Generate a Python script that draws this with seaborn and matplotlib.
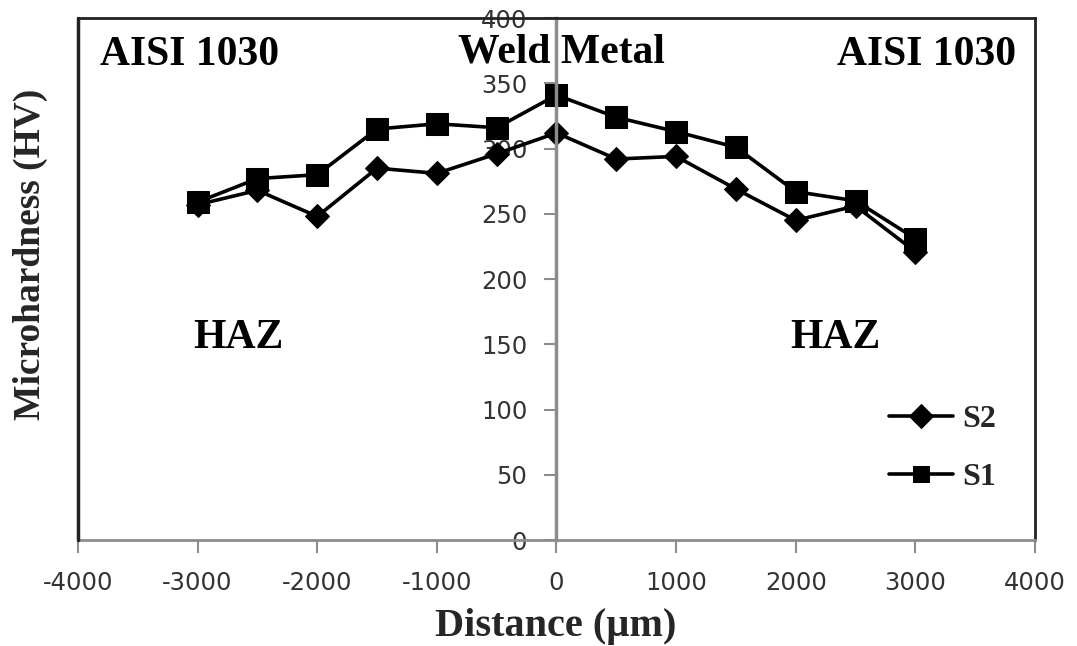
"""Microhardness profile across the weld (S1 vs S2)."""

import matplotlib
matplotlib.use("Agg")
import matplotlib.pyplot as plt
import pandas as pd
import seaborn as sns

# distance from weld centre (um)
distance = [-3000, -2500, -2000, -1500, -1000, -500, 0, 500, 1000, 1500, 2000, 2500, 3000]
s1_hv = [259, 277, 280, 315, 319, 316, 341, 324, 313, 301, 267, 260, 231]
s2_hv = [257, 268, 248, 285, 281, 296, 312, 292, 294, 269, 245, 256, 221]

x_ticks = [-4000, -3000, -2000, -1000, 0, 1000, 2000, 3000, 4000]
y_ticks = [0, 50, 100, 150, 200, 250, 300, 350, 400]

SERIF = ["Liberation Serif", "DejaVu Serif"]


def main() -> None:
    sns.set_theme(style="white")
    plt.rcParams["font.family"] = ["DejaVu Sans"]
    plt.rcParams["axes.unicode_minus"] = False

    df = pd.concat(
        [
            pd.DataFrame({"distance": distance, "hv": s2_hv, "sample": "S2"}),
            pd.DataFrame({"distance": distance, "hv": s1_hv, "sample": "S1"}),
        ]
    )

    fig = plt.figure(figsize=(10.77, 6.46), dpi=100)
    ax = fig.add_axes([0.0724, 0.164, 0.8886, 0.808])

    sns.lineplot(data=df[df["sample"] == "S2"], x="distance", y="hv", ax=ax,
                 color="black", lw=2.6, marker="D", markersize=12,
                 markeredgecolor="black", label="S2")
    sns.lineplot(data=df[df["sample"] == "S1"], x="distance", y="hv", ax=ax,
                 color="black", lw=2.6, marker="s", markersize=16,
                 markeredgecolor="black", label="S1")

    ax.set_xlim(-4000, 4000)
    ax.set_ylim(0, 400)
    ax.set_xticks(x_ticks)
    ax.set_yticks(y_ticks)

    # y axis crosses at x = 0, box drawn around plot area
    ax.spines["left"].set_position(("data", 0))
    ax.spines["left"].set_color("#8c8c8c")
    ax.spines["left"].set_linewidth(2.5)
    ax.spines["bottom"].set_color("#8c8c8c")
    ax.spines["bottom"].set_linewidth(2.0)
    for side in ["top", "right"]:
        ax.spines[side].set_color("#222222")
        ax.spines[side].set_linewidth(2.0)
    ax.axvline(-4000, color="#222222", lw=2.5, clip_on=False, zorder=3)

    ax.tick_params(axis="y", direction="out", length=9, width=1.5, color="#8c8c8c",
                   labelsize=17.5, labelcolor="#333333", pad=12, left=True)
    ax.tick_params(axis="x", direction="out", length=9, width=1.5, color="#8c8c8c",
                   labelsize=17.5, labelcolor="#333333", pad=13, bottom=True)

    ax.set_xlabel("")
    ax.set_ylabel("")
    fig.text(0.516, 0.03, "Distance (\u00b5m)", ha="center", va="center",
             family=SERIF, fontweight="bold", fontsize=29)
    fig.text(0.028, 0.607, "Microhardness (HV)", ha="center", va="center", rotation=90,
             family=SERIF, fontweight="bold", fontsize=27)

    txt = dict(family=SERIF, fontweight="bold", fontsize=30, color="black")
    ax.text(-3820, 372, "AISI 1030", ha="left", va="center", **txt)
    ax.text(3840, 372, "AISI 1030", ha="right", va="center", **txt)
    ax.text(-820, 374, "Weld Metal", ha="left", va="center", **txt)
    ax.text(-2660, 155, "HAZ", ha="center", va="center", **txt)
    ax.text(2330, 155, "HAZ", ha="center", va="center", **txt)

    leg = ax.legend(loc="center left", bbox_to_anchor=(0.817, 0.175), frameon=False,
                    prop={"family": SERIF, "weight": "bold", "size": 23},
                    handlelength=2.0, handletextpad=0.3, labelspacing=0.9)
    for h in leg.legend_handles:
        h.set_markersize(12)

    fig.savefig("out.png", dpi=100)


if __name__ == "__main__":
    main()
